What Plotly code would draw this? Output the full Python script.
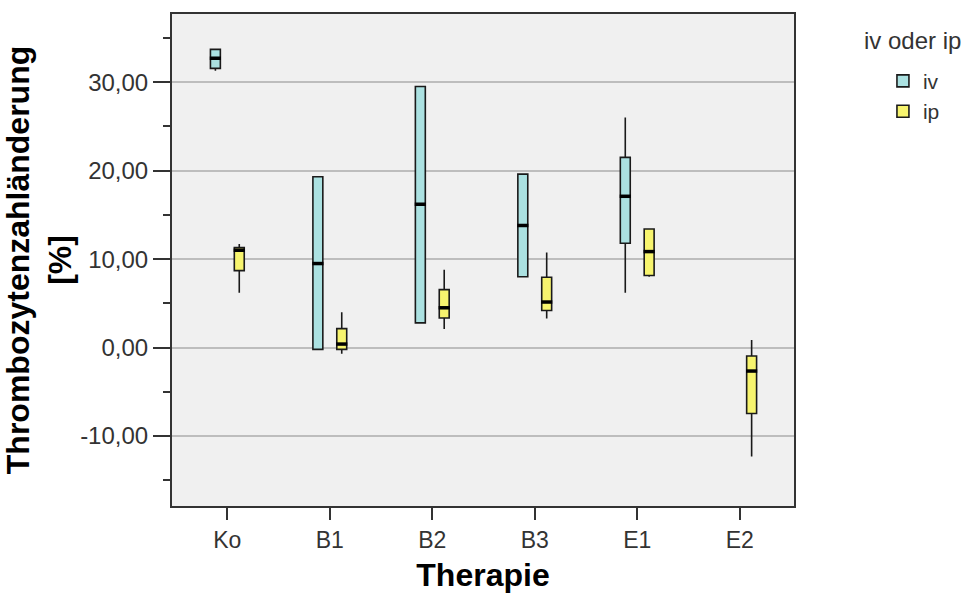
import plotly.graph_objects as go

# ---- data ----
categories = ["Ko", "B1", "B2", "B3", "E1", "E2"]

iv_cats = ["Ko", "B1", "B2", "B3", "E1"]
iv_lower = [31.3, -0.2, 2.8, 8.0, 6.2]
iv_q1 = [31.55, -0.2, 2.8, 8.0, 11.8]
iv_median = [32.7, 9.5, 16.2, 13.8, 17.1]
iv_q3 = [33.7, 19.3, 29.5, 19.6, 21.5]
iv_upper = [33.8, 19.3, 29.5, 19.6, 26.0]

ip_cats = ["Ko", "B1", "B2", "B3", "E1", "E2"]
ip_lower = [6.2, -0.7, 2.1, 3.3, 8.0, -12.3]
ip_q1 = [8.7, -0.2, 3.35, 4.2, 8.15, -7.45]
ip_median = [11.0, 0.4, 4.5, 5.15, 10.85, -2.65]
ip_q3 = [11.3, 2.15, 6.55, 7.95, 13.4, -0.95]
ip_upper = [11.7, 4.0, 8.8, 10.75, 13.4, 0.85]

y_tickvals = [-10, 0, 10, 20, 30]
y_ticktext = ["-10,00", "0,00", "10,00", "20,00", "30,00"]

iv_color = "#ABE1E1"
ip_color = "#F7F46E"
edge = "#1a1a1a"
font_family = "Liberation Sans, Arial, sans-serif"

fig = go.Figure()

fig.add_trace(go.Box(
    name="iv", x=iv_cats, q1=iv_q1, median=iv_median, q3=iv_q3,
    lowerfence=iv_lower, upperfence=iv_upper,
    fillcolor=iv_color, line=dict(color=edge, width=1.6),
    whiskerwidth=0, boxpoints=False, offsetgroup="iv", hoverinfo="skip",
))
fig.add_trace(go.Box(
    name="ip", x=ip_cats, q1=ip_q1, median=ip_median, q3=ip_q3,
    lowerfence=ip_lower, upperfence=ip_upper,
    fillcolor=ip_color, line=dict(color=edge, width=1.6),
    whiskerwidth=0, boxpoints=False, offsetgroup="ip", hoverinfo="skip",
))

# thick median bars (overlay, grouped the same way as the boxes)
fig.add_trace(go.Scatter(
    x=iv_cats, y=iv_median, mode="markers", orientation="v", offsetgroup="iv",
    marker=dict(symbol="line-ew", size=8, line=dict(color="black", width=3.5)),
    showlegend=False, hoverinfo="skip",
))
fig.add_trace(go.Scatter(
    x=ip_cats, y=ip_median, mode="markers", orientation="v", offsetgroup="ip",
    marker=dict(symbol="line-ew", size=8, line=dict(color="black", width=3.5)),
    showlegend=False, hoverinfo="skip",
))

gap = 0.534
fig.update_layout(
    width=971, height=599,
    margin=dict(l=170, r=177, t=12, b=92),
    paper_bgcolor="white", plot_bgcolor="#F0F0F0",
    boxmode="group", boxgap=gap, boxgroupgap=0.584,
    scattermode="group", scattergap=gap,
    font=dict(family=font_family, color="#333333"),
    showlegend=True,
    legend=dict(
        x=1.143, y=0.905, xanchor="left", yanchor="top",
        font=dict(size=21, color="#333333"), bgcolor="rgba(0,0,0,0)",
        tracegroupgap=0, itemwidth=30,
    ),
    annotations=[dict(
        text="iv oder ip", xref="paper", yref="paper",
        x=1.11, y=0.978, xanchor="left", yanchor="top", showarrow=False,
        font=dict(size=24, color="#333333", family=font_family),
    )],
)

fig.update_xaxes(
    type="category", categoryorder="array", categoryarray=categories,
    range=[-0.54, 5.53],
    showline=True, mirror=True, linecolor="#333333", linewidth=2,
    ticks="outside", ticklen=12, tickwidth=2, tickcolor="#333333",
    tickfont=dict(size=23, color="#333333"),
    showgrid=False,
    title=dict(text="Therapie", font=dict(size=32, color="black", weight="bold"), standoff=12),
)
fig.update_yaxes(
    range=[-17.9, 37.7],
    tickmode="array", tickvals=y_tickvals, ticktext=y_ticktext,
    showline=True, mirror=True, linecolor="#333333", linewidth=2,
    ticks="outside", ticklen=17, tickwidth=2, tickcolor="#333333",
    tickfont=dict(size=24, color="#333333"),
    showgrid=True, gridcolor="#BDBDBD", gridwidth=1.5, zeroline=False,
    minor=dict(dtick=5, tick0=0, ticks="outside", ticklen=7, tickwidth=1.5,
               tickcolor="#333333", showgrid=False),
    title=dict(text="Thrombozytenzahländerung<br>[%]",
               font=dict(size=32, color="black", weight="bold"), standoff=4),
)

fig.write_html("out.html")
